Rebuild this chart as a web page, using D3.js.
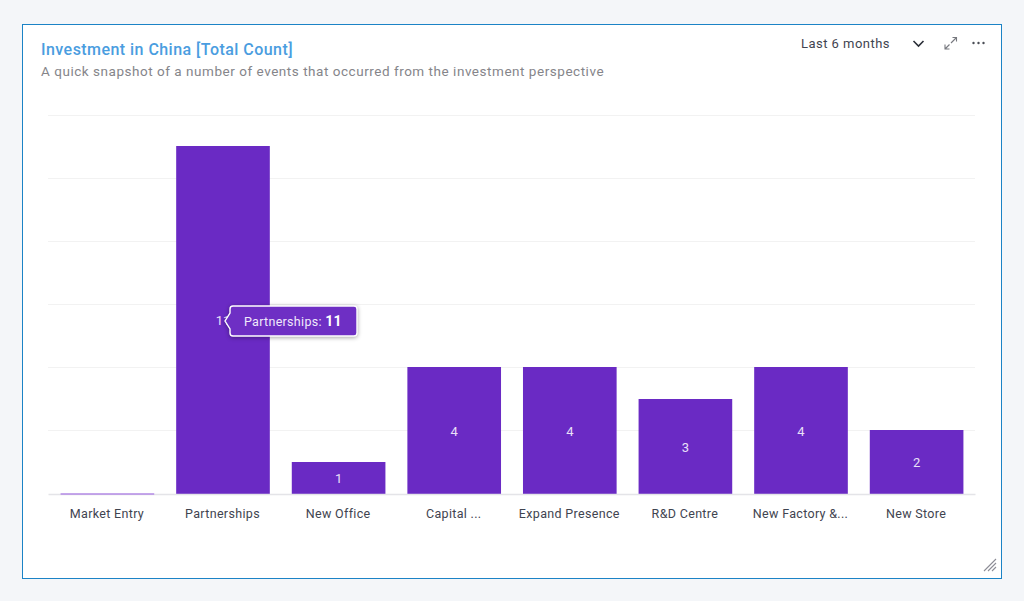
<!DOCTYPE html>
<html>
<head>
<meta charset="utf-8">
<script src="https://cdn.jsdelivr.net/npm/d3@7"></script>
<style>
html,body{margin:0;padding:0;background:#f4f6f9;overflow:hidden}
svg{display:block}
text{font-family:Roboto,"Noto Sans",sans-serif}
</style>
</head>
<body>
<svg id="chart" width="1024" height="601"></svg>
<script>
var categories = ["Market Entry","Partnerships","New Office","Capital ...","Expand Presence","R&D Centre","New Factory &...","New Store"];
var values = [0,11,1,4,4,3,4,2];
var gridTicks = [2,4,6,8,10,12];
var hovered = 1;

var svg = d3.select("#chart");

// card
svg.append("rect").attr("x",22.5).attr("y",24.5).attr("width",979).attr("height",554)
    .attr("fill","#fff").attr("stroke","#1b83c6").attr("stroke-width",1);

svg.append("text").attr("x",41).attr("y",55).attr("fill","#4a9de0")
    .style("font-size","16px").style("font-weight","500").style("letter-spacing","0.45px")
    .text("Investment in China [Total Count]");
svg.append("text").attr("x",41).attr("y",76).attr("fill","#85858a")
    .style("font-size","13.5px").style("letter-spacing","0.53px")
    .text("A quick snapshot of a number of events that occurred from the investment perspective");

// header controls
svg.append("text").attr("x",801).attr("y",47.5).attr("fill","#3f4450")
    .style("font-size","13px").style("letter-spacing","0.47px").text("Last 6 months");
svg.append("path").attr("d","M913.5 41l5 5 5-5").attr("fill","none").attr("stroke","#2b2f38").attr("stroke-width",1.6);
svg.append("path").attr("d","M951 43l5-5M952.5 37.5h4v4M949.5 44.5l-4 4M945 44.5v4.5h4.5").attr("fill","none").attr("stroke","#77797f").attr("stroke-width",1.1);
svg.selectAll("circle.dot").data([973.5,978.5,983.5]).join("circle").attr("class","dot")
    .attr("cx",function(d){return d}).attr("cy",43).attr("r",1.2).attr("fill","#4a4d55");

// scales
var x = d3.scaleBand().domain(categories).range([48.5,975.5]).paddingInner(0.19).paddingOuter(0.1045);
var y = d3.scaleLinear().domain([0,12]).range([494,115]);

var g = svg.append("g");

g.selectAll("line.grid").data(gridTicks).join("line").attr("class","grid")
    .attr("x1",48).attr("x2",975)
    .attr("y1",function(d){return Math.floor(y(d))+0.5}).attr("y2",function(d){return Math.floor(y(d))+0.5})
    .attr("stroke","#f2f2f2");

g.selectAll("rect.bar").data(values).join("rect").attr("class","bar")
    .attr("x",function(d,i){return x(categories[i])})
    .attr("width",x.bandwidth())
    .attr("y",function(d){return Math.floor(y(d))})
    .attr("height",function(d){return y(0)-Math.floor(y(d))})
    .attr("fill","#6a2ac4");

// axis
var axis = d3.axisBottom(x).tickSize(0).tickPadding(15);
var ax = g.append("g").attr("transform","translate(-0.5,494)").call(axis);
ax.select(".domain").attr("stroke","#e4e4e8").attr("stroke-width",1.5);
ax.selectAll("text").attr("fill","#3f4450").style("font-size","12.5px").style("letter-spacing","0.33px")
    .style("font-family","Roboto,'Noto Sans',sans-serif");

// zero value still shows a thin line, on top of the axis
values.forEach(function(d,i){
    if(d!==0) return;
    g.append("line")
        .attr("x1",x(categories[i])).attr("x2",x(categories[i])+x.bandwidth())
        .attr("y1",y(0)).attr("y2",y(0))
        .attr("stroke","#b48be6").attr("stroke-width",1.5);
});

// bar labels
values.forEach(function(d,i){
    if(d===0) return;
    g.append("text")
        .attr("x",x(categories[i])+x.bandwidth()/2)
        .attr("y",(y(d)+y(0))/2+5)
        .attr("text-anchor","middle").attr("fill","#e9e0f8")
        .style("font-size","13px").text(d);
});

// tooltip over the hovered bar
var tipX = 230, tipY = 306, tipW = 127, tipH = 30;
var tip = svg.append("g");
tip.append("path")
    .attr("d","M"+(tipX+3)+" "+tipY+"h"+(tipW-6)+"a3 3 0 0 1 3 3v"+(tipH-6)+"a3 3 0 0 1 -3 3h-"+(tipW-6)+"a3 3 0 0 1 -3 -3v-4l-5 -8 5 -8v-4a3 3 0 0 1 3 -3z")
    .attr("fill","#6e2fc4").attr("stroke","#fff").attr("stroke-width",1.4)
    .style("filter","drop-shadow(0 1px 2px rgba(0,0,0,.35))");
var tt = tip.append("text").attr("x",244).attr("y",326).attr("fill","#f0e9fb").style("font-size","12.5px").style("letter-spacing","0.3px");
tt.append("tspan").text(categories[hovered]+": ");
tt.append("tspan").style("font-weight","700").style("font-size","14px").attr("fill","#fff").text(values[hovered]);

// resize handle
svg.append("path").attr("d","M984 571l12-12M988 571l8-8M992 571l4-4").attr("stroke","#8d8d96").attr("stroke-width",1.1).attr("fill","none");
</script>
</body>
</html>
